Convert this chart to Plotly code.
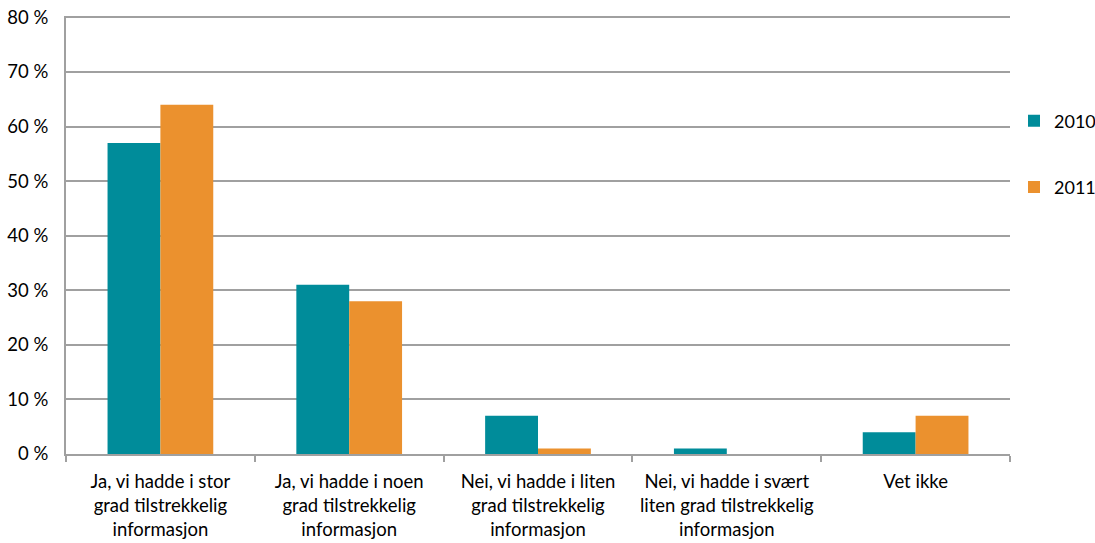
import plotly.graph_objects as go

categories = [
    "Ja, vi hadde i stor<br>grad tilstrekkelig<br>informasjon",
    "Ja, vi hadde i noen<br>grad tilstrekkelig<br>informasjon",
    "Nei, vi hadde i liten<br>grad tilstrekkelig<br>informasjon",
    "Nei, vi hadde i svært<br>liten grad tilstrekkelig<br>informasjon",
    "Vet ikke",
]
values_2010 = [57, 31, 7, 1, 4]
values_2011 = [64, 28, 1, 0, 7]
y_ticks = [0, 10, 20, 30, 40, 50, 60, 70, 80]

FONT = "Lato, 'Open Sans', sans-serif"
W, H = 1095, 543
L, R, T, B = 66, 85, 16, 89
PW = W - L - R

fig = go.Figure()
fig.add_trace(go.Bar(name="2010", x=categories, y=values_2010,
                     marker=dict(color="#008C9A", line=dict(width=0)), legend="legend"))
fig.add_trace(go.Bar(name="2011", x=categories, y=values_2011,
                     marker=dict(color="#EB912E", line=dict(width=0)), legend="legend2"))

lx = (1014 - L) / PW
fig.update_layout(
    width=W, height=H,
    margin=dict(l=L, r=R, t=T, b=B, autoexpand=False),
    paper_bgcolor="white", plot_bgcolor="white",
    barmode="group", bargap=0.44, bargroupgap=0,
    font=dict(family=FONT, size=18.5, color="#000000"),
    legend=dict(x=lx, y=0.76, xanchor="left", yanchor="middle",
                font=dict(size=18), itemwidth=30, bgcolor="rgba(0,0,0,0)"),
    legend2=dict(x=lx, y=0.609, xanchor="left", yanchor="middle",
                 font=dict(size=18), itemwidth=30, bgcolor="rgba(0,0,0,0)"),
    showlegend=True,
)
fig.update_xaxes(
    type="category", showline=True, linecolor="#A0A0A0", linewidth=2,
    ticks="outside", tickson="boundaries", ticklen=6, tickcolor="#A0A0A0", tickwidth=2,
    showgrid=False, tickfont=dict(size=18.5), ticklabelstandoff=10, automargin=False,
)
fig.update_yaxes(
    range=[0, 80.25], tickvals=y_ticks, ticktext=[f"{v} %" for v in y_ticks],
    showline=True, linecolor="#A0A0A0", linewidth=2,
    showgrid=True, gridcolor="#A0A0A0", gridwidth=1.5,
    ticks="", zeroline=False, tickfont=dict(size=18.5), ticklabelstandoff=12,
    automargin=False, ticklabeloverflow="allow",
)

fig.write_html(
    "out.html",
    config={"displayModeBar": False},
    post_script="document.body.style.margin='0';document.body.style.overflow='hidden';",
)
